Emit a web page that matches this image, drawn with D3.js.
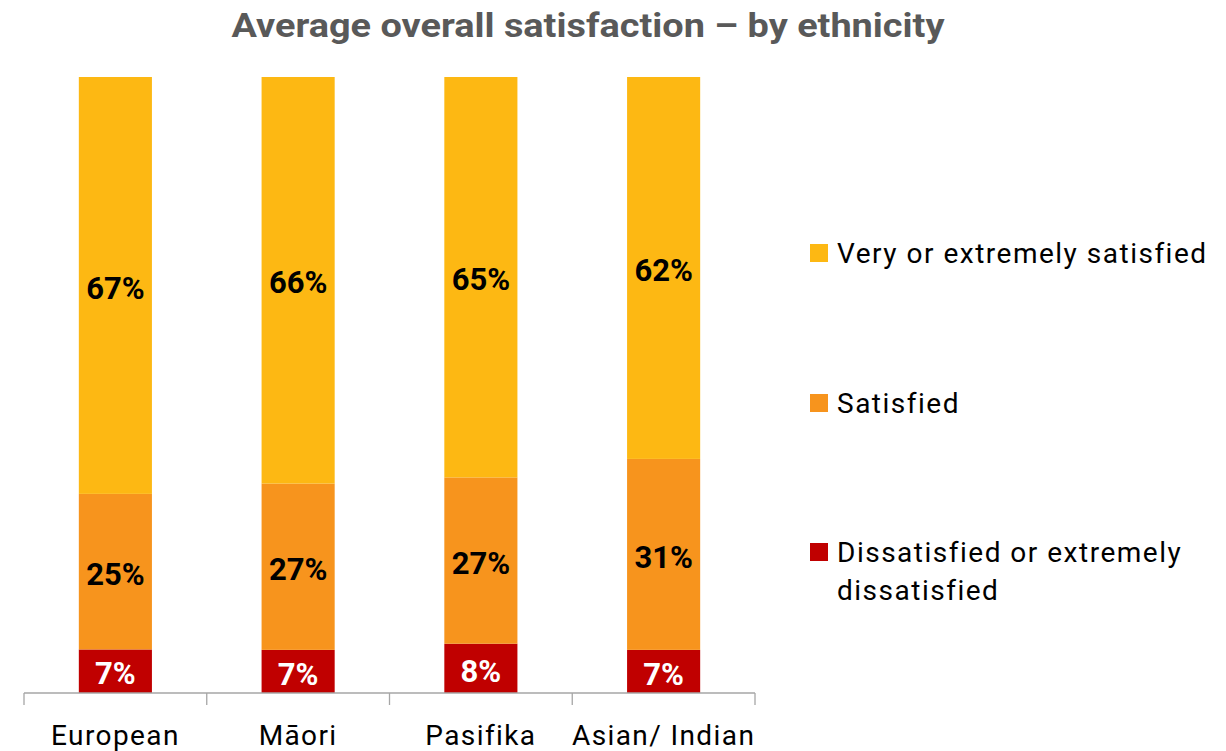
<!DOCTYPE html>
<html>
<head>
<meta charset="utf-8">
<script src="https://cdn.jsdelivr.net/npm/d3@7"></script>
<style>
  html, body { margin: 0; padding: 0; background: #fff; }
  svg { display: block; font-family: Roboto, "Noto Sans", sans-serif; }
</style>
</head>
<body>
<svg id="chart" width="1226" height="751"></svg>
<script>
// Satisfaction shares (%) by ethnic group
const categories = ["European", "Māori", "Pasifika", "Asian/ Indian"];
const seriesKeys = ["dissatisfied", "satisfied", "very"];
const seriesLabels = ["Dissatisfied or extremely dissatisfied", "Satisfied", "Very or extremely satisfied"];
const dissatisfied = [7, 7, 8, 7];
const satisfied = [25, 27, 27, 31];
const verySatisfied = [67, 66, 65, 62];
const seriesColors = ["#C00000", "#F7941D", "#FDB813"];
const titleText = "Average overall satisfaction – by ethnicity";

const rows = categories.map((c, i) => ({
  category: c,
  dissatisfied: dissatisfied[i],
  satisfied: satisfied[i],
  very: verySatisfied[i]
}));

const svg = d3.select("#chart");
const margin = { left: 24, right: 471, top: 77, bottom: 58 };
const W = 1226, H = 751;
const plotW = W - margin.left - margin.right;
const plotH = H - margin.top - margin.bottom;

const g = svg.append("g").attr("transform", `translate(${margin.left},${margin.top})`);

const x = d3.scaleBand().domain(categories).range([0, plotW]).paddingInner(0.6).paddingOuter(0.3);
const y = d3.scaleLinear().domain([0, 1]).range([plotH, 0]);
const color = d3.scaleOrdinal().domain(seriesKeys).range(seriesColors);

// 100% stacked layout
const stacked = d3.stack().keys(seriesKeys).offset(d3.stackOffsetExpand)(rows);

const layers = g.selectAll(".layer").data(stacked).join("g")
  .attr("class", "layer")
  .attr("fill", d => color(d.key));

layers.selectAll("rect").data(d => d).join("rect")
  .attr("x", d => x(d.data.category))
  .attr("width", x.bandwidth())
  .attr("y", d => y(d[1]))
  .attr("height", d => y(d[0]) - y(d[1]));

// Value labels centred in each segment
layers.each(function(layer) {
  d3.select(this).selectAll("text").data(layer).join("text")
    .attr("x", d => x(d.data.category) + x.bandwidth() / 2)
    .attr("y", d => (y(d[0]) + y(d[1])) / 2 + 2)
    .attr("dy", "0.36em")
    .attr("text-anchor", "middle")
    .attr("font-size", 31)
    .attr("font-weight", 700)
    .attr("fill", layer.key === "dissatisfied" ? "#fff" : "#000")
    .text(d => d.data[layer.key] + "%");
});

// Category axis with ticks between groups
const boundaries = d3.range(categories.length + 1).map(i => i * (plotW / categories.length));
const axisG = g.append("g").attr("transform", `translate(0,${plotH})`);
axisG.append("line")
  .attr("x1", 0).attr("x2", plotW)
  .attr("stroke", "#A6A6A6").attr("stroke-width", 1.3);
axisG.selectAll(".tick").data(boundaries).join("line")
  .attr("x1", d => d).attr("x2", d => d)
  .attr("y1", 0).attr("y2", 12)
  .attr("stroke", "#A6A6A6").attr("stroke-width", 1.3);
axisG.selectAll(".cat").data(categories).join("text")
  .attr("x", d => x(d) + x.bandwidth() / 2)
  .attr("y", 52)
  .attr("text-anchor", "middle")
  .attr("font-size", 28)
  .attr("letter-spacing", 1.4)
  .attr("fill", "#000")
  .text(d => d);

// Title
svg.append("text")
  .attr("x", 588).attr("y", 37)
  .attr("text-anchor", "middle")
  .attr("font-size", 34)
  .attr("font-weight", 700)
  .attr("fill", "#595959")
  .attr("textLength", 713)
  .attr("lengthAdjust", "spacingAndGlyphs")
  .text(titleText);

// Legend (top to bottom: very, satisfied, dissatisfied)
const legendItems = [
  { key: "very", lines: ["Very or extremely satisfied"], y: 253 },
  { key: "satisfied", lines: ["Satisfied"], y: 403 },
  { key: "dissatisfied", lines: ["Dissatisfied or extremely", "dissatisfied"], y: 552 }
];
const legend = svg.append("g");
const li = legend.selectAll("g").data(legendItems).join("g")
  .attr("transform", d => `translate(810,${d.y})`);
li.append("rect")
  .attr("x", 0).attr("y", -9).attr("width", 18).attr("height", 18)
  .attr("fill", d => color(d.key));
li.append("text")
  .attr("x", 27).attr("y", 0)
  .attr("font-size", 28)
  .attr("letter-spacing", 1.5)
  .attr("fill", "#000")
  .selectAll("tspan").data(d => d.lines).join("tspan")
  .attr("x", 27)
  .attr("dy", (d, i) => i === 0 ? "0.36em" : "1.34em")
  .text(d => d);
</script>
</body>
</html>
